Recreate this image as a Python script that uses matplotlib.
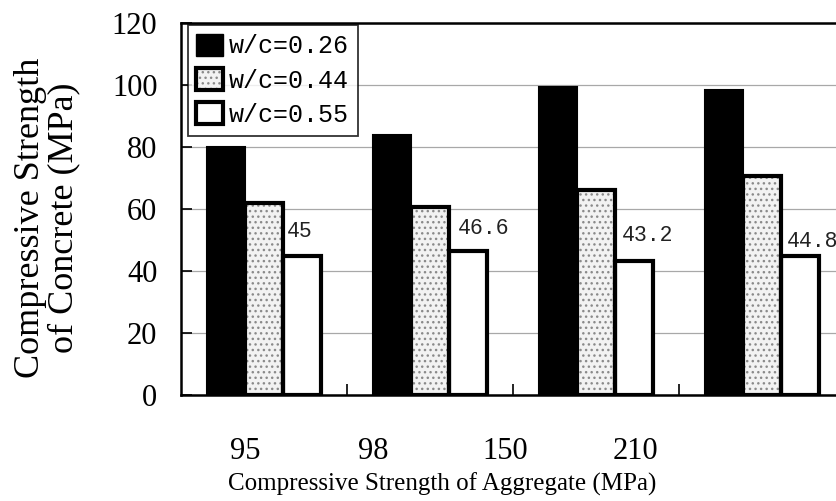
import numpy as np
import matplotlib
matplotlib.use("Agg")
import matplotlib.pyplot as plt
from matplotlib.patches import Patch

# data
categories = ["95", "98", "150", "210"]
series_names = ["w/c=0.26", "w/c=0.44", "w/c=0.55"]
wc026 = [80, 84, 99.5, 98.5]
wc044 = [62, 60.5, 66, 70.5]
wc055 = [45, 46.6, 43.2, 44.8]
value_labels = ["45", "46.6", "43.2", "44.8"]
y_ticks = [0, 20, 40, 60, 80, 100, 120]

# label positions in the source are offset from the groups
tick_label_pos = [-0.11, 0.66, 1.45, 2.24]
label_dx = [-2, 16, 14, 13]     # px
label_dy = [24, 22, 26, 15]     # px

SERIF = "Liberation Serif"
MONO = "Liberation Mono"
PT = 72 / 100   # px -> pt at dpi 100

fig = plt.figure(figsize=(8.37, 5.01), dpi=100)
ax = fig.add_axes([181 / 837, 106 / 501, 664 / 837, 372 / 501])

x = np.arange(len(categories))
w = 0.227

ax.bar(x - w, wc026, w, color="black", edgecolor="black", lw=1.5, zorder=3)
# dotted bars: gray hatch under a thick black outline
ax.bar(x, wc044, w, color="#f2f2f2", edgecolor="#8a8a8a", hatch="...", lw=0, zorder=3)
ax.bar(x, wc044, w, fill=False, edgecolor="black", lw=3, zorder=4)
white = ax.bar(x + w, wc055, w, color="white", edgecolor="black", lw=3, zorder=3)

for i, r in enumerate(white):
    ax.annotate(value_labels[i], (r.get_x() + r.get_width() / 2, r.get_height()),
                xytext=(label_dx[i] * PT, label_dy[i] * PT), textcoords="offset points",
                ha="center", va="center", fontsize=15.5, family=MONO, color="#222")

ax.set_xlim(-0.5, 3.5)
ax.set_ylim(0, 120)
ax.set_yticks(y_ticks)
ax.set_yticklabels([str(t) for t in y_ticks], family=SERIF, fontsize=22)
ax.tick_params(axis="y", direction="in", length=8, width=1.2, pad=17, colors="black")
ax.set_xticks(tick_label_pos)
ax.set_xticklabels(categories, family=SERIF, fontsize=22)
ax.tick_params(axis="x", length=0, pad=30)
ax.set_xticks([0.5, 1.5, 2.5], minor=True)
ax.tick_params(axis="x", which="minor", direction="in", length=8, width=1.2)

ax.yaxis.grid(True, color="#a8a8a8", lw=0.9, zorder=0)
ax.set_axisbelow(True)
for s in ["left", "bottom", "top"]:
    ax.spines[s].set_linewidth(1.8)
    ax.spines[s].set_color("black")
ax.spines["right"].set_visible(False)

handles = [
    Patch(facecolor="black", edgecolor="black"),
    (Patch(facecolor="#f2f2f2", edgecolor="#8a8a8a", hatch="...", lw=0),
     Patch(fill=False, edgecolor="black", lw=3)),
    Patch(facecolor="white", edgecolor="black", lw=3),
]
leg = ax.legend(handles, series_names, loc="upper left", bbox_to_anchor=(0.01, 0.995),
                prop={"family": MONO, "size": 18}, frameon=True, fancybox=False,
                edgecolor="black", handlelength=1.05, handleheight=1.0,
                handletextpad=0.25, labelspacing=0.38, borderpad=0.35,
                borderaxespad=0.0)
leg.get_frame().set_linewidth(1.3)
leg.set_zorder(5)

fig.text(442 / 837, 0.034, "Compressive Strength of Aggregate (MPa)",
         ha="center", va="center", family=SERIF, fontsize=18)
fig.text(47 / 837, 0.565, "Compressive Strength\nof Concrete (MPa)", rotation=90,
         ha="center", va="center", multialignment="center", family=SERIF,
         fontsize=26, linespacing=1.0)

fig.savefig("out.png", dpi=100)
